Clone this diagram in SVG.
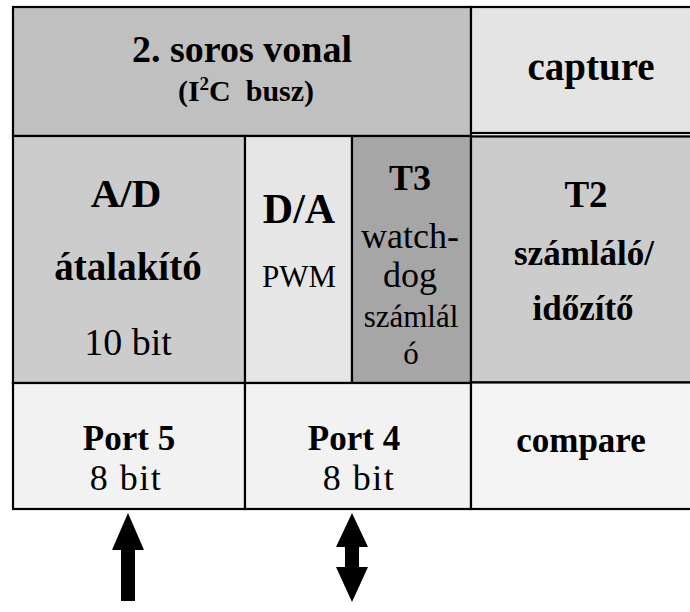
<svg xmlns="http://www.w3.org/2000/svg" width="690" height="612" viewBox="0 0 690 612">
  <style>
    .cell { stroke: #000; stroke-width: 2.2; }
    .b { font-family: "Liberation Serif", "Times New Roman", serif; font-weight: bold; text-anchor: middle; fill: #000; }
    .r { font-family: "Liberation Serif", "Times New Roman", serif; font-weight: normal; text-anchor: middle; fill: #000; }
    .arrow { fill: #000; }
  </style>
  <rect width="690" height="612" fill="#fff"/>

  <!-- top row -->
  <g id="i2c">
    <rect class="cell" x="13" y="7" width="458" height="129" fill="#c0c0c0"/>
    <text class="b" x="242" y="62" font-size="38">2. soros vonal</text>
    <text class="b" x="246" y="101" font-size="30" xml:space="preserve">(I<tspan font-size="19" dy="-11">2</tspan><tspan dy="11">C  busz)</tspan></text>
  </g>
  <g id="capture">
    <rect class="cell" x="471" y="7" width="222" height="126" fill="#e4e4e4"/>
    <line x1="471" y1="136.5" x2="690" y2="136.5" stroke="#000" stroke-width="1.5"/>
    <text class="b" x="591" y="80" font-size="39">capture</text>
  </g>

  <!-- middle row -->
  <g id="ad">
    <rect class="cell" x="13" y="136" width="232" height="247" fill="#cccccc"/>
    <text class="b" x="126" y="207" font-size="41">A/D</text>
    <text class="b" x="128" y="280" font-size="39">átalakító</text>
    <text class="r" x="128" y="355" font-size="38">10 bit</text>
  </g>
  <g id="da">
    <rect class="cell" x="245" y="136" width="107" height="247" fill="#e6e6e6"/>
    <text class="b" x="299" y="223" font-size="42">D/A</text>
    <text class="r" x="299" y="287" font-size="31">PWM</text>
  </g>
  <g id="t3">
    <rect class="cell" x="352" y="136" width="119" height="247" fill="#a6a6a6"/>
    <text class="b" x="410" y="190" font-size="36">T3</text>
    <text class="r" x="410" y="248" font-size="36">watch-</text>
    <text class="r" x="410" y="287" font-size="36">dog</text>
    <text class="r" x="411" y="327" font-size="31">számlál</text>
    <text class="r" x="411" y="364" font-size="31">ó</text>
  </g>
  <g id="t2">
    <rect class="cell" x="471" y="136.5" width="222" height="246" fill="#cccccc"/>
    <text class="b" x="586" y="207" font-size="37">T2</text>
    <text class="b" x="584" y="265" font-size="35">számláló/</text>
    <text class="b" x="583" y="320" font-size="35">időzítő</text>
  </g>

  <!-- bottom row -->
  <g id="port5">
    <rect class="cell" x="13" y="383" width="232" height="126" fill="#f2f2f2"/>
    <text class="b" x="129" y="450" font-size="35">Port 5</text>
    <text class="r" x="126" y="490" font-size="36" letter-spacing="1.5">8 bit</text>
  </g>
  <g id="port4">
    <rect class="cell" x="245" y="383" width="226" height="126" fill="#f2f2f2"/>
    <text class="b" x="354" y="450" font-size="35">Port 4</text>
    <text class="r" x="359" y="490" font-size="36" letter-spacing="1.5">8 bit</text>
  </g>
  <g id="compare">
    <rect class="cell" x="471" y="382.5" width="222" height="126.5" fill="#f4f4f4"/>
    <text class="b" x="581" y="452" font-size="35">compare</text>
  </g>

  <!-- connectors -->
  <g id="connectors">
    <polygon class="arrow" points="128,513 144,550 135,550 135,601 121,601 121,550 112,550"/>
    <polygon class="arrow" points="352,513 368,547 359,547 359,567 368,567 352,602 336,567 345,567 345,547 336,547"/>
  </g>
</svg>
